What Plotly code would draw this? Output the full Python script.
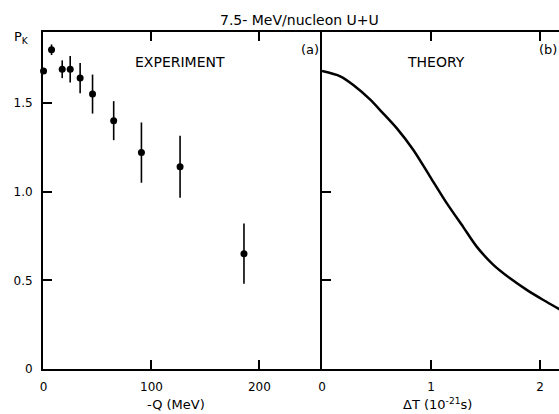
import plotly.graph_objects as go

# Experiment (panel a)
q_mev = [0, 7.4, 17.3, 24.7, 33.9, 45.4, 65, 90.7, 126.5, 185.7]
pk_exp = [1.68, 1.80, 1.69, 1.69, 1.64, 1.55, 1.40, 1.22, 1.14, 0.65]
pk_err = [0.0, 0.03, 0.05, 0.075, 0.085, 0.11, 0.11, 0.17, 0.175, 0.17]

# Theory (panel b)
dt = [0.0, 0.167, 0.29, 0.44, 0.548, 0.685, 0.838, 0.991, 1.144, 1.296, 1.419,
      1.572, 1.725, 1.878, 2.03, 2.138, 2.18]
pk_th = [1.68, 1.65, 1.60, 1.52, 1.45, 1.358, 1.235, 1.085, 0.935, 0.80, 0.69,
         0.587, 0.511, 0.446, 0.389, 0.351, 0.336]

FONT = "DejaVu Sans"
L, T, W, H = 43, 32, 516, 337

def px(x):
    return (x - L) / W

def py(y):
    return (T + H - y) / H

fig = go.Figure()
fig.add_trace(go.Scatter(
    x=q_mev, y=pk_exp, mode="markers", xaxis="x", yaxis="y",
    marker=dict(color="black", size=7),
    error_y=dict(type="data", array=pk_err, visible=True, color="black", thickness=1.6, width=0),
    cliponaxis=False, showlegend=False))
fig.add_trace(go.Scatter(
    x=dt, y=pk_th, mode="lines", xaxis="x2", yaxis="y2",
    line=dict(color="black", width=2.5, shape="spline", smoothing=0.8), showlegend=False))

split = px(322)
axis_common = dict(showline=True, linecolor="black", linewidth=2, showgrid=False, zeroline=False,
                   ticks="inside", ticklen=9, tickwidth=1.5, tickcolor="black",
                   tickfont=dict(family=FONT, size=12, color="black"))

fig.update_layout(
    width=559, height=414,
    margin=dict(l=L, r=0, t=T, b=414 - T - H),
    paper_bgcolor="white", plot_bgcolor="white",
    xaxis=dict(domain=[0, split], range=[-0.5, 258], anchor="y", mirror="ticks",
               tickvals=[0, 100, 200], ticklabelstandoff=6, **axis_common),
    yaxis=dict(domain=[0, 1], range=[0, 1.9], anchor="x",
               tickvals=[0, 0.5, 1.0, 1.5], ticktext=["0", "0.5", "1.0", "1.5"],
               ticklabelstandoff=6, **axis_common),
    xaxis2=dict(domain=[split, 1], range=[0, 2.174], anchor="y2", mirror="ticks",
                tickvals=[0, 1, 2], ticklabelstandoff=6, **axis_common),
    yaxis2=dict(domain=[0, 1], range=[0, 1.9], anchor="x2",
                tickvals=[0.5, 1.0], showticklabels=False, **axis_common),
)

ann = [
    ("7.5- MeV/nucleon U+U", 299, 20, 14),
    ("EXPERIMENT", 180, 62, 14),
    ("THEORY", 436, 62, 14),
    ("(a)", 310, 50, 13),
    ("(b)", 548, 50, 13),
    ("P<sub>K</sub>", 21, 38, 13),
    ("-Q (MeV)", 176, 405, 13),
    ("ΔT (10<sup>-21</sup>s)", 437, 404, 13),
]
for text, x, y, s in ann:
    fig.add_annotation(text=text, x=px(x), y=py(y), xref="paper", yref="paper",
                       showarrow=False, xanchor="center", yanchor="middle",
                       font=dict(family=FONT, size=s, color="black"))

fig.write_html("out.html")
